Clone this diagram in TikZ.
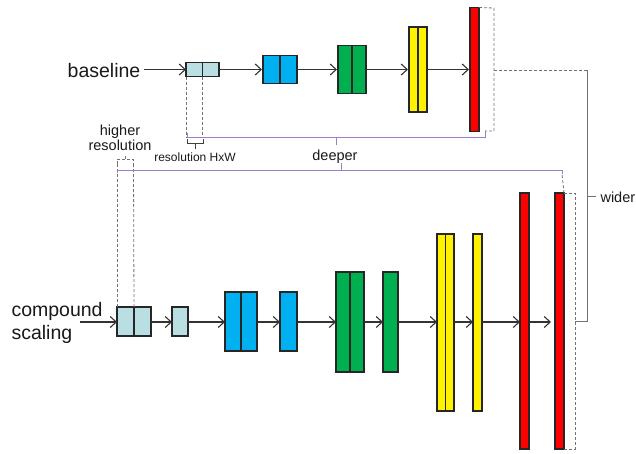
\documentclass[tikz,border=0pt]{standalone}
\usepackage{fontspec}
\setmainfont{Liberation Sans}
\usetikzlibrary{arrows.meta}
\definecolor{paleteal}{HTML}{B9DFE2}
\definecolor{skyblue}{HTML}{00B0F0}
\definecolor{leafgreen}{HTML}{00B050}
\definecolor{spanpurple}{HTML}{A07CCC}
\tikzset{
  layer/.style={draw=black!85, line width=1.3pt, inner sep=0pt, outer sep=0pt},
  twin/.style={path picture={\draw[black!85, line width=1.3pt] (path picture bounding box.north) -- (path picture bounding box.south);}},
  flow/.style={-{Straight Barb[length=6pt,width=11pt]}, line width=1.1pt, draw=black!80},
  guide/.style={densely dashed, draw=black!55, line width=0.8pt},
  span/.style={draw=spanpurple, line width=0.9pt},
  bigtext/.style={font=\fontsize{19.5}{23}\selectfont, text=black!90},
  smalltext/.style={font=\fontsize{14.5}{15}\selectfont, text=black!90},
}
\begin{document}
\begin{tikzpicture}[x=1pt, y=-1pt]
    \useasboundingbox (0,0) rectangle (636,453) ;
    % baseline network
    \node [bigtext] (base) at (104,71) {baseline} ;
    \node [layer, twin, fill=paleteal, minimum width=33, minimum height=14] (b1) at (202.5,69.5) {} ;
    \node [layer, twin, fill=skyblue, minimum width=34, minimum height=28] (b2) at (280,69.5) {} ;
    \node [layer, twin, fill=leafgreen, minimum width=28, minimum height=48] (b3) at (352,69.5) {} ;
    \node [layer, twin, fill=yellow, minimum width=18, minimum height=85] (b4) at (418,69.5) {} ;
    \node [layer, fill=red, minimum width=9, minimum height=124] (b5) at (474.5,69.5) {} ;
    \draw [flow] (base.east |- b1.west) -- (b1.west) ;
    \draw [flow] (b1.east) -- ([xshift=-1pt]b2.west) ;
    \draw [flow] (b2.east) -- ([xshift=-1pt]b3.west) ;
    \draw [flow] (b3.east) -- ([xshift=-1pt]b4.west) ;
    \draw [flow] (b4.east) -- ([xshift=-1pt]b5.west) ;

    % compound scaled network
    \node [bigtext, align=left, anchor=west] (comp) at (8,323) {compound\\scaling} ;
    \coordinate (cin) at (80,322) ;
    \node [layer, twin, fill=paleteal, minimum width=34, minimum height=29] (c1) at (134,321.5) {} ;
    \node [layer, fill=paleteal, minimum width=16, minimum height=29] (c2) at (180,321.5) {} ;
    \node [layer, twin, fill=skyblue, minimum width=32, minimum height=59] (c3) at (241,321.5) {} ;
    \node [layer, fill=skyblue, minimum width=17, minimum height=59] (c4) at (288.5,321.5) {} ;
    \node [layer, twin, fill=leafgreen, minimum width=28, minimum height=100] (c5) at (350,322) {} ;
    \node [layer, fill=leafgreen, minimum width=15, minimum height=100] (c6) at (390.5,322) {} ;
    \node [layer, twin, fill=yellow, minimum width=17, minimum height=177] (c7) at (445.5,322.5) {} ;
    \node [layer, fill=yellow, minimum width=9, minimum height=177] (c8) at (477.5,322.5) {} ;
    \node [layer, fill=red, minimum width=9, minimum height=256] (c9) at (524.5,321) {} ;
    \node [layer, fill=red, minimum width=9, minimum height=256] (c10) at (559.5,321) {} ;
    \draw [flow] (cin) -- (cin -| c1.west) ;
    \draw [flow] (c1.east |- cin) -- (c2.west |- cin) ;
    \draw [flow] (c2.east |- cin) -- (c3.west |- cin) ;
    \draw [flow] (c3.east |- cin) -- (c4.west |- cin) ;
    \draw [flow] (c4.east |- cin) -- (c5.west |- cin) ;
    \draw [flow] (c5.east |- cin) -- (c6.west |- cin) ;
    \draw [flow] (c6.east |- cin) -- (c7.west |- cin) ;
    \draw [flow] (c7.east |- cin) -- (c8.west |- cin) ;
    \draw [flow] (c8.east |- cin) -- (c9.west |- cin) ;
    \draw [flow] (c9.east |- cin) -- ([xshift=-4pt]c10.west |- cin) ;

    % resolution
    \draw [guide] (b1.south west) -- ++(0,61) ;
    \draw [guide] (b1.south) -- ++(0,61) ;
    \draw [black!75, line width=0.8pt] (187,139) -- (187,143) -- (203,143) -- (203,139) ;
    \draw [black!75, line width=0.8pt] (195,143) -- (195,149) ;
    \node [font=\fontsize{12}{12}\selectfont, text=black!90] (reslabel) at (195,157) {resolution HxW} ;
    \node [smalltext, align=center] (hires) at (120,138) {higher\\resolution} ;
    \draw [guide] (117,164) -- (117,159) -- (133.5,159) -- (133.5,164) ;
    \draw [guide] (125,159) -- (125,155) ;
    \draw [guide] (c1.north west) -- (117,164) ;
    \draw [guide] (c1.north) -- (133.5,164) ;

    % deeper
    \draw [span] (187,133) -- (187,137) -- (485,137) -- (485,131) ;
    \draw [span] (336,137) -- (336,145) ;
    \node [smalltext] (deep) at (335,157) {deeper} ;
    \draw [span] (341,163) -- (341,170) ;
    \draw [span] (117,173) -- (117,170) -- (562,170) -- (562,174) ;
    \draw [guide] (c10.north east) -- (562,174) ;

    % wider
    \draw [guide] (b5.north east) -- (494,8) -- (494,131) -- (485,131) ;
    \draw [guide] (c10.north east) -- (575,193) -- (575,449) -- (c10.south east) ;
    \draw [guide] (494,70) -- (587,70) ;
    \draw [black!55, line width=0.8pt] (587,70) -- (587,321) -- (575,321) ;
    \draw [black!55, line width=0.8pt] (587,196) -- (596,196) ;
    \node [smalltext, anchor=west] (wide) at (597,197) {wider} ;
\end{tikzpicture}
\end{document}
